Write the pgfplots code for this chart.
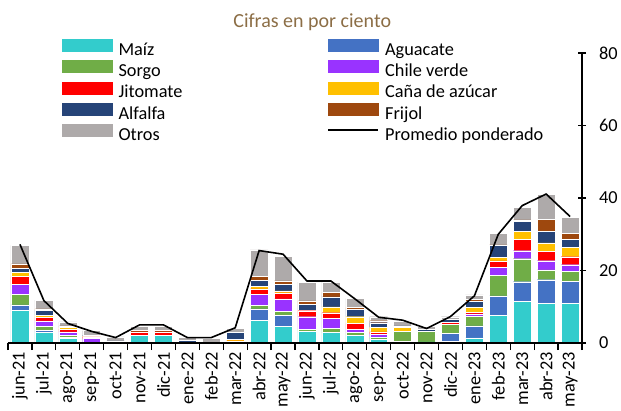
\documentclass[border=0pt]{standalone}
\usepackage{pgfplots}
\pgfplotsset{compat=1.18}
\usepackage{pgfplotstable}
\usepackage{fontspec}
\setmainfont{Carlito}

\definecolor{cMaiz}{RGB}{51,204,204}
\definecolor{cAgua}{RGB}{68,114,196}
\definecolor{cSorgo}{RGB}{112,173,71}
\definecolor{cChile}{RGB}{153,51,255}
\definecolor{cJito}{RGB}{255,0,0}
\definecolor{cCana}{RGB}{255,192,0}
\definecolor{cAlf}{RGB}{38,68,120}
\definecolor{cFri}{RGB}{158,72,14}
\definecolor{cOtros}{RGB}{174,170,170}
\definecolor{cTitle}{RGB}{140,110,70}

\pgfplotstableread{
x maiz agua sorgo chile jito cana alf fri otros prom
0 9.1 1.4 2.9 2.8 2.1 1.2 1.1 1.2 5.1 27.2
1 2.9 0.5 1.1 1.6 1.0 0.6 1.4 0.3 2.4 11.7
2 1.2 0.4 0.5 1.0 0.7 0.5 0.3 0.1 1.1 5.4
3 0.0 0.1 0.0 1.1 0.5 0.1 0.4 0.0 1.2 3.2
4 0.0 0.0 0.0 0.0 0.0 0.0 0.6 0.0 1.1 1.5
5 2.2 0.0 0.0 0.0 0.9 0.0 0.0 0.4 1.0 5.0
6 2.2 0.0 0.0 0.0 0.9 0.0 0.0 0.4 1.0 5.0
7 0.0 0.0 0.0 0.0 0.0 0.0 0.7 0.0 0.9 1.5
8 0.0 0.0 0.0 0.0 0.0 0.0 0.0 0.0 1.2 1.5
9 0.0 0.0 0.0 0.0 0.6 0.5 1.75 0.0 1.1 4.2
10 6.2 3.2 0.9 3.1 1.5 0.8 1.5 1.1 7.4 25.5
11 4.5 3.2 1.1 3.4 1.65 0.55 1.75 1.0 6.8 24.5
12 3.3 0.0 0.55 3.4 1.65 0.2 1.55 1.0 5.15 17.1
13 2.85 0.0 1.1 2.85 1.55 1.65 2.75 1.2 2.85 17.1
14 2.2 0.0 0.65 1.0 1.55 1.85 2.1 0.45 2.5 12.2
15 1.0 0.0 0.55 0.9 0.65 1.2 1.3 0.55 1.1 7.1
16 0.5 0.0 2.8 0.0 0.0 1.0 0.4 0.0 1.4 6.3
17 0.3 0.0 3.0 0.0 0.0 0.0 0.5 0.0 0.7 4.0
18 0.5 2.1 2.6 0.0 0.45 0.0 0.9 0.0 0.7 7.3
19 1.4 3.3 2.6 0.75 0.4 1.3 1.65 0.55 1.3 13.0
20 7.6 5.4 5.6 2.2 1.85 1.0 3.2 0.2 3.2 30.0
21 11.5 5.4 6.35 2.2 3.2 2.1 2.75 0.45 3.4 37.9
22 10.85 6.6 2.75 2.5 2.6 2.3 3.2 3.4 6.9 41.1
23 10.85 6.15 2.75 1.85 2.2 2.65 2.2 1.65 4.4 34.9
}\datatable

\pgfplotsset{
  barst/.style={fill=#1, draw=white, line width=0.4pt,
    legend image code/.code={\fill[#1] (0pt,-0.5pt) rectangle (50pt,11.5pt);}},
}

\begin{document}
\begin{tikzpicture}
\begin{axis}[
  at={(0pt,0pt)}, anchor=south west,
  scale only axis, width=574pt, height=290pt,
  ybar stacked, bar width=0.75,
  xmin=-0.5, xmax=23.5, ymin=0, ymax=80,
  axis x line*=bottom, axis y line*=right,
  axis line style={-, line width=1.4pt, black},
  xtick=data,
  xticklabels={jun-21,jul-21,ago-21,sep-21,oct-21,nov-21,dic-21,ene-22,feb-22,mar-22,abr-22,may-22,jun-22,jul-22,ago-22,sep-22,oct-22,nov-22,dic-22,ene-23,feb-23,mar-23,abr-23,may-23},
  xtick style={draw=none},
  xticklabel style={rotate=90, anchor=east, inner sep=0pt, font=\fontsize{18.3}{20}\selectfont},
  xticklabel shift=9pt,
  ytick={0,20,40,60,80},
  ytick style={draw=black, line width=1.2pt},
  ytick align=center,
  major tick length=8pt,
  yticklabel style={anchor=west, inner sep=0pt, font=\fontsize{18.3}{20}\selectfont},
  yticklabel shift=13pt,
  /pgf/number format/assume math mode=true,
  title={Cifras en por ciento},
  title style={at={(axis description cs:0.530,1.086)}, anchor=center, text=cTitle, font=\fontsize{20}{22}\selectfont},
  legend columns=2,
  legend cell align=left,
  legend style={draw=none, fill=none, at={(axis description cs:0.094,1.048)}, anchor=north west,
    inner sep=0pt, column sep=6pt, row sep=1pt,
    nodes={inner sep=0pt, text height=13pt, text depth=4pt},
    font=\fontsize{18.3}{20}\selectfont},
]
\addplot[barst=cMaiz] table[x=x, y=maiz]{\datatable};
\addlegendentry{\makebox[203pt][l]{Maíz}}
\addplot[barst=cAgua] table[x=x, y=agua]{\datatable};
\addlegendentry{Aguacate}
\addplot[barst=cSorgo] table[x=x, y=sorgo]{\datatable};
\addlegendentry{\makebox[203pt][l]{Sorgo}}
\addplot[barst=cChile] table[x=x, y=chile]{\datatable};
\addlegendentry{Chile verde}
\addplot[barst=cJito] table[x=x, y=jito]{\datatable};
\addlegendentry{\makebox[203pt][l]{Jitomate}}
\addplot[barst=cCana] table[x=x, y=cana]{\datatable};
\addlegendentry{Caña de azúcar}
\addplot[barst=cAlf] table[x=x, y=alf]{\datatable};
\addlegendentry{\makebox[203pt][l]{Alfalfa}}
\addplot[barst=cFri] table[x=x, y=fri]{\datatable};
\addlegendentry{Frijol}
\addplot[barst=cOtros] table[x=x, y=otros]{\datatable};
\addlegendentry{\makebox[203pt][l]{Otros}}
\addlegendimage{legend image code/.code={\draw[black, line width=1.6pt] (0pt,5.5pt) -- (50pt,5.5pt);}}
\addlegendentry{Promedio ponderado}
\end{axis}
\begin{axis}[
  at={(0pt,0pt)}, anchor=south west,
  scale only axis, width=574pt, height=290pt,
  xmin=-0.5, xmax=23.5, ymin=0, ymax=80,
  axis x line*=bottom, hide y axis,
  axis line style={-, line width=1.4pt, black},
  xtick={-0.5,0.5,...,23.5}, xticklabels={},
  x tick style={draw=black, line width=1.2pt},
  xtick align=outside, major tick length=7pt,
]
\addplot[black, line width=1.6pt, sharp plot, mark=none] table[x=x, y=prom]{\datatable};
\end{axis}
\pgfresetboundingbox
\path[use as bounding box] (-8pt,-67pt) rectangle (613pt,343pt);
\end{tikzpicture}
\end{document}
